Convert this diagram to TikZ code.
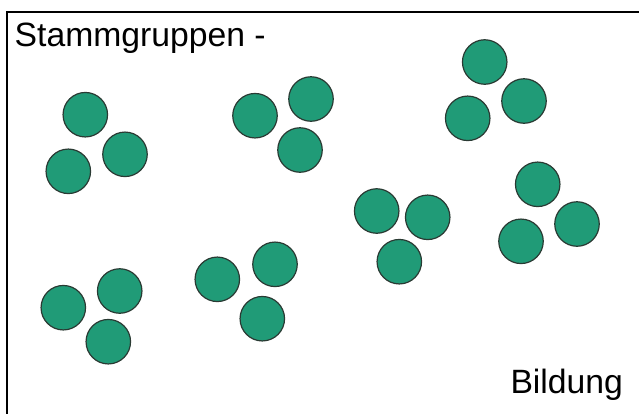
\documentclass[tikz,border=0pt]{standalone}
\usepackage{fontspec}
\setmainfont{Liberation Sans}
\definecolor{cellgreen}{HTML}{209B77}
\definecolor{celledge}{HTML}{2A3A33}
\begin{document}
\begin{tikzpicture}[x=1pt,y=-1pt,
  cell/.style={circle,draw=celledge,fill=cellgreen,line width=1.2pt,minimum size=44.5pt,inner sep=0pt},
  label/.style={font=\fontsize{33.7}{40}\selectfont,anchor=base west,inner sep=0pt}]
\useasboundingbox (0,0) rectangle (639,413);
\begin{scope}
\clip (0,0) rectangle (639,413);
\draw[line width=2.2pt] (7,12) rectangle (660,430);
\end{scope}
\node[label] (t1) at (14.5,46.7) {Stammgruppen -};
\node[label] (t2) at (510.3,393.3) {Bildung};
% group 1
\node[cell] (a1) at (85.3,114.7) {};
\node[cell] (a2) at (125,154.3) {};
\node[cell] (a3) at (68.3,171.3) {};
% group 2
\node[cell] (b1) at (255,115.7) {};
\node[cell] (b2) at (311,99) {};
\node[cell] (b3) at (300,150) {};
% group 3
\node[cell] (c1) at (484.7,62) {};
\node[cell] (c2) at (524,101) {};
\node[cell] (c3) at (467.7,118.3) {};
% group 4
\node[cell] (d1) at (537.7,184.3) {};
\node[cell] (d2) at (577,224) {};
\node[cell] (d3) at (521,241.3) {};
% group 5
\node[cell] (e1) at (376.7,211) {};
\node[cell] (e2) at (427.7,217.3) {};
\node[cell] (e3) at (399.3,261.7) {};
% group 6
\node[cell] (f1) at (63.3,307.7) {};
\node[cell] (f2) at (119.7,291) {};
\node[cell] (f3) at (108.3,341.7) {};
% group 7
\node[cell] (g1) at (217.3,279.3) {};
\node[cell] (g2) at (275,264.3) {};
\node[cell] (g3) at (262.3,318.7) {};
\end{tikzpicture}
\end{document}
